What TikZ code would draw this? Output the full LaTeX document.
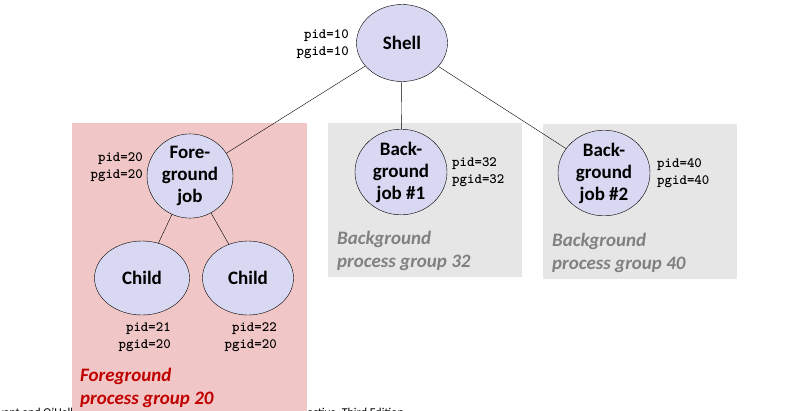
\documentclass[tikz,border=0pt]{standalone}
\usepackage{fontspec}
\usetikzlibrary{shapes.geometric}
\setmainfont{Carlito}
\definecolor{fgpink}{RGB}{241,198,198}
\definecolor{bggray}{RGB}{230,230,230}
\definecolor{jobblue}{RGB}{216,216,242}
\definecolor{fgred}{RGB}{192,0,0}
\definecolor{grptext}{RGB}{128,128,128}

\begin{document}
\begin{tikzpicture}[x=1pt,y=-1pt,
  proc/.style={ellipse,draw,fill=jobblue,inner sep=0pt,minimum width=#1,
    font=\fontsize{19}{22}\selectfont\bfseries,align=center},
  pids/.style={font=\ttfamily\bfseries\fontsize{14.2}{17}\selectfont,inner sep=0pt},
  grplabel/.style={font=\fontsize{19}{23}\selectfont\bfseries\itshape,align=left,anchor=north west,inner sep=0pt}]
\useasboundingbox (0,0) rectangle (805,410);
\fill[white] (0,0) rectangle (805,410);
\node[anchor=base east,font=\fontsize{12}{13}\selectfont,inner sep=0pt] (credit) at (404,416) {Bryant and O'Hallaron, Computer Systems: A Programmer's Perspective, Third Edition};
\fill[fgpink] (72,123) rectangle (307,412);
\fill[bggray] (328,123) rectangle (522,277);
\fill[bggray] (543,124) rectangle (737,279);
\node[proc=91pt,minimum height=77pt] (shell) at (402,43) {Shell};
\node[proc=86pt,minimum height=84pt] (fg) at (190,176) {Fore-\\ground\\job};
\node[proc=95pt,minimum height=74pt] (child1) at (142,278) {Child};
\node[proc=91pt,minimum height=74pt] (child2) at (248,278) {Child};
\node[proc=92pt,minimum height=82pt] (bg1) at (401,172) {Back-\\ground\\job \#1};
\node[proc=92pt,minimum height=82pt] (bg2) at (604,173) {Back-\\ground\\job \#2};
\draw (shell) -- (fg);
\draw (shell) -- (bg1);
\draw (shell) -- (bg2);
\draw (fg) -- (child1);
\draw (fg) -- (child2);
\node[pids,align=right,anchor=east] (shellpid) at (349,44) {pid=10\\pgid=10};
\node[pids,align=right,anchor=east] (fgpid) at (143,167) {pid=20\\pgid=20};
\node[pids,align=right,anchor=east] (c1pid) at (171,337) {pid=21\\pgid=20};
\node[pids,align=right,anchor=east] (c2pid) at (277,337) {pid=22\\pgid=20};
\node[pids,align=left,anchor=west] (bg1pid) at (452,172) {pid=32\\pgid=32};
\node[pids,align=left,anchor=west] (bg2pid) at (657,173) {pid=40\\pgid=40};
\node[grplabel,text=fgred] (fglabel) at (80,368) {Foreground\\process group 20};
\node[grplabel,text=grptext] (bg1label) at (337,231) {Background\\process group 32};
\node[grplabel,text=grptext] (bg2label) at (552,233) {Background\\process group 40};
\end{tikzpicture}
\end{document}
